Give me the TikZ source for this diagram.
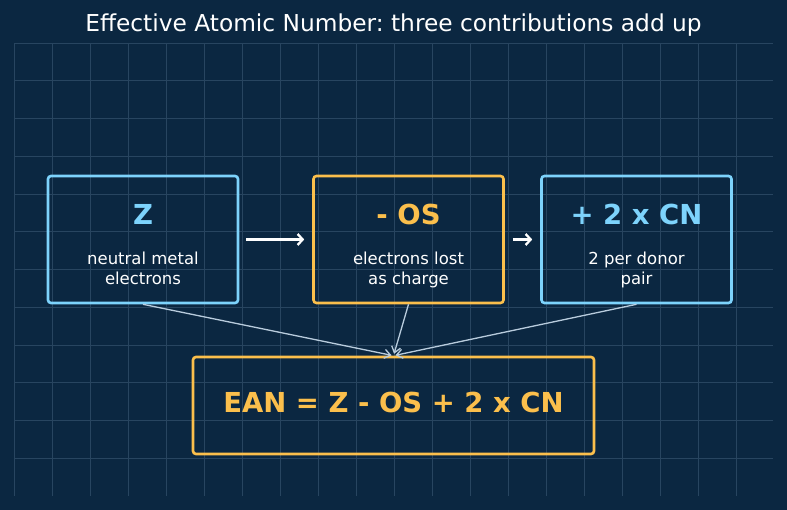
\documentclass[tikz,border=0pt]{standalone}
\usepackage{fontspec}
\setmainfont{DejaVu Sans}
\usepackage{tikz}
\usetikzlibrary{arrows.meta,positioning,calc}
\definecolor{bgc}{HTML}{0B2741}
\definecolor{gridc}{HTML}{284560}
\definecolor{lb}{HTML}{7DD3FC}
\definecolor{lo}{HTML}{FBBF4C}
\definecolor{lk}{HTML}{B9CCDD}
\frenchspacing

\begin{document}
\begin{tikzpicture}[x=1pt,y=-1pt,
  card/.style={rectangle,minimum width=190pt,minimum height=127pt,inner sep=0pt,line width=2.6pt,rounded corners=3pt},
  bluecard/.style={card,draw=lb},
  orcard/.style={card,draw=lo},
  head/.style={anchor=base,inner sep=0pt,font=\fontsize{27.5}{33}\selectfont\bfseries},
  sub/.style={anchor=base,inner sep=0pt,align=center,text=white,font=\fontsize{16.5}{19.5}\selectfont},
  gridline/.style={draw=gridc,line width=0.8pt},
  arrow/.style={-{Straight Barb[length=5pt,width=11pt]},line width=2.3pt,color=white},
  link/.style={-{Straight Barb[length=6pt,width=9pt]},line width=1.3pt,color=lk,shorten >=2pt}]
\fill[bgc](0,0)rectangle(787,510);
% grid
\foreach \i in {0,...,19}
  \draw[gridline]({14+38*\i},43)--({14+38*\i},496);
\foreach \j in {0,...,11}
  \draw[gridline](14,{43+37.75*\j})--(773,{43+37.75*\j});
\node[anchor=base,inner sep=0pt,text=white,font=\fontsize{23.3}{28}\selectfont](title)at(393.5,32){Effective Atomic Number: three contributions add up};
% three terms
\node[bluecard](zbox)at(143,239.5){};
\node[orcard](osbox)at(408.5,239.5){};
\node[bluecard](cnbox)at(636.5,239.5){};
\node[head,text=lb](zhead)at(143,225){Z};
\node[head,text=lo](oshead)at(408.5,225){- OS};
\node[head,text=lb](cnhead)at(636.5,225){+ 2 x CN};
% base of a two-line node = last line
\node[sub](zsub)at(143,284.5){neutral metal\\electrons};
\node[sub](ossub)at(408.5,284.5){electrons lost\\as charge};
\node[sub](cnsub)at(636.5,284.5){2 per donor\\pair};
% result
\node[orcard,minimum width=401pt,minimum height=97pt](ean)at(393.5,405.5){};
\node[head,text=lo](eantxt)at(393.5,412.7){EAN = Z - OS + 2 x CN};
\draw[arrow,shorten <=7pt,shorten >=8pt](zbox.east)--(osbox.west);
\draw[arrow,shorten <=8pt,shorten >=8pt](osbox.east)--(cnbox.west);
\foreach \b in {zbox,osbox,cnbox}
  \draw[link](\b.south)--(ean.north);
\end{tikzpicture}
\end{document}
